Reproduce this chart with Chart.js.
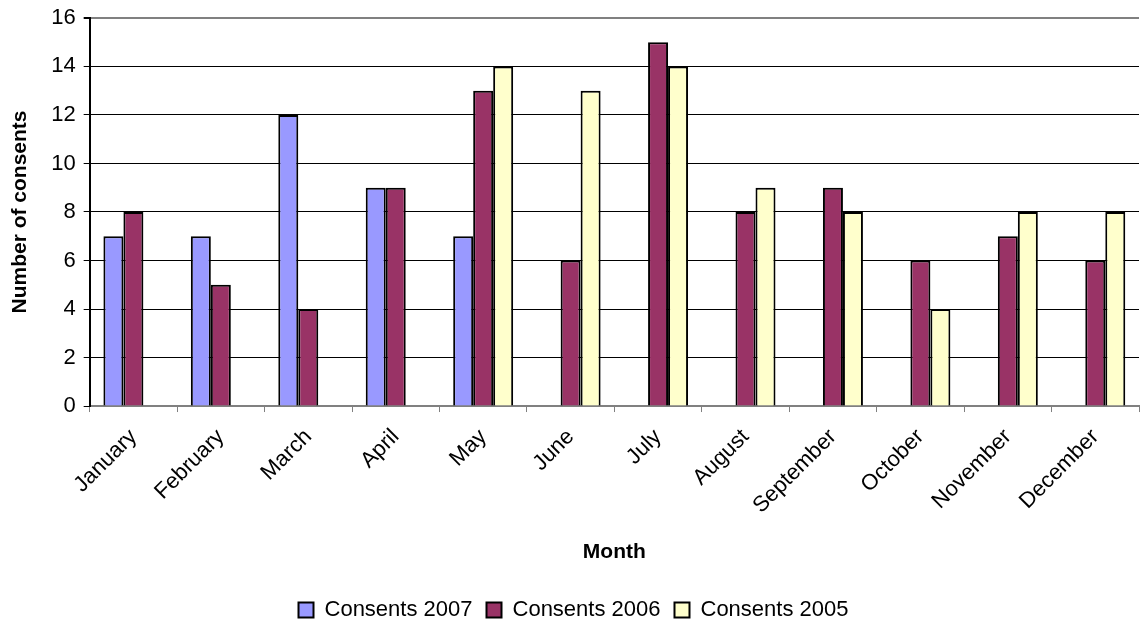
<!DOCTYPE html>
<html>
<head>
<meta charset="utf-8">
<script src="https://cdn.jsdelivr.net/npm/chart.js@4/dist/chart.umd.min.js"></script>
<style>
  html, body { margin: 0; padding: 0; background: #fff; }
  #wrap { width: 1141px; height: 628px; }
</style>
</head>
<body>
<div id="wrap"><canvas id="grafico"></canvas></div>
<script>
const meses = ["January", "February", "March", "April", "May", "June", "July", "August", "September", "October", "November", "December"];
const consents2007 = [7, 7, 12, 9, 7, null, null, null, null, null, null, null];
const consents2006 = [8, 5, 4, 9, 13, 6, 15, 8, 9, 6, 7, 6];
const consents2005 = [null, null, null, null, 14, 13, 14, 9, 8, 4, 8, 8];

const fonte = "'Liberation Sans', Arial, sans-serif";
const grafico = document.getElementById("grafico").getContext("2d");

new Chart(grafico, {
  type: "bar",
  data: {
    labels: meses,
    datasets: [
      { label: "Consents 2007", data: consents2007, backgroundColor: "#9999FF", borderColor: "#000", borderWidth: 2 },
      { label: "Consents 2006", data: consents2006, backgroundColor: "#993366", borderColor: "#000", borderWidth: 2 },
      { label: "Consents 2005", data: consents2005, backgroundColor: "#FFFFCC", borderColor: "#000", borderWidth: 2 }
    ]
  },
  options: {
    responsive: true,
    maintainAspectRatio: false,
    animation: false,
    barPercentage: 1,
    categoryPercentage: 0.686,
    layout: { padding: { top: 0, right: 2, left: 8, bottom: -3 } },
    plugins: {
      legend: {
        position: "bottom",
        labels: {
          color: "#000",
          font: { family: fonte, size: 22 },
          boxWidth: 15,
          boxHeight: 15,
          padding: 14
        }
      },
      tooltip: { enabled: false }
    },
    scales: {
      x: {
        grid: {
          offset: true,
          drawOnChartArea: false,
          drawTicks: true,
          tickLength: 6,
          color: "#808080"
        },
        border: { color: "#808080", width: 2 },
        ticks: {
          color: "#000",
          font: { family: fonte, size: 22 },
          minRotation: 45,
          maxRotation: 45,
          padding: 12
        },
        title: {
          display: true,
          text: "Month",
          color: "#000",
          font: { family: fonte, size: 21, weight: "bold" },
          padding: { top: 9, bottom: 20 }
        }
      },
      y: {
        min: 0,
        max: 16,
        grid: {
          color: ctx => (ctx.tick && (ctx.tick.value === 16 || ctx.tick.value === 0)) ? "#808080" : "#000",
          lineWidth: ctx => (ctx.tick && ctx.tick.value === 16) ? 2 : 1,
          tickColor: "#000",
          tickLength: 6
        },
        border: { color: "#000", width: 2 },
        ticks: {
          stepSize: 2,
          color: "#000",
          font: { family: fonte, size: 22, lineHeight: 0.9 },
          padding: 8
        },
        title: {
          display: true,
          text: "Number of consents",
          color: "#000",
          font: { family: fonte, size: 21, weight: "bold" },
          padding: { top: 0, bottom: 10 }
        }
      }
    }
  }
});
</script>
</body>
</html>
